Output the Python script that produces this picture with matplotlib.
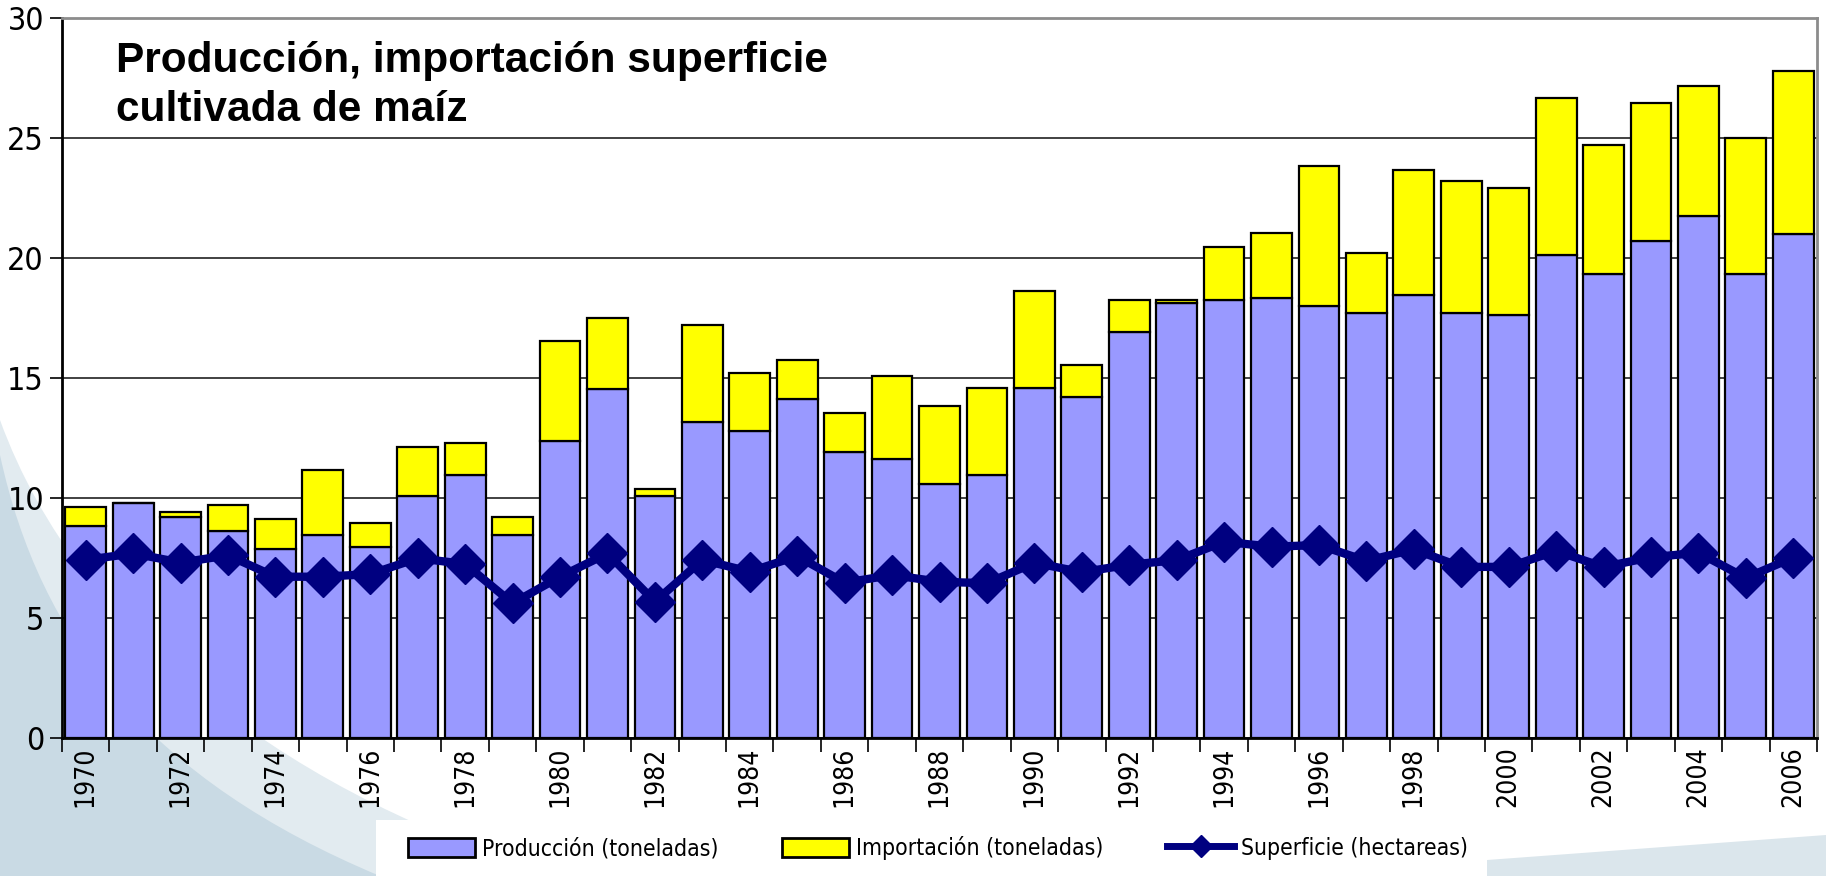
import numpy as np
import matplotlib
matplotlib.use("Agg")
import matplotlib.pyplot as plt
from matplotlib.patches import Patch, Rectangle, PathPatch
from matplotlib.path import Path
from matplotlib.lines import Line2D
from matplotlib import font_manager

# datos
years = list(range(1970, 2007))
produccion = [8.83, 9.81, 9.22, 8.64, 7.88, 8.46, 7.97, 10.08, 10.96, 8.45,
              12.39, 14.53, 10.08, 13.15, 12.78, 14.14, 11.92, 11.63, 10.58, 10.94,
              14.60, 14.21, 16.90, 18.13, 18.24, 18.33, 17.99, 17.69, 18.47, 17.70,
              17.62, 20.11, 19.35, 20.69, 21.74, 19.35, 20.99]
importacion = [0.78, 0.00, 0.20, 1.07, 1.26, 2.71, 0.97, 2.03, 1.35, 0.77,
               4.14, 2.97, 0.28, 4.04, 2.41, 1.61, 1.62, 3.45, 3.25, 3.66,
               4.04, 1.35, 1.34, 0.10, 2.22, 2.70, 5.84, 2.50, 5.18, 5.49,
               5.28, 6.56, 5.37, 5.76, 5.41, 5.65, 6.82]
superficie = [7.42, 7.69, 7.31, 7.61, 6.72, 6.72, 6.83, 7.49, 7.25, 5.61,
              6.72, 7.69, 5.68, 7.42, 6.93, 7.58, 6.47, 6.79, 6.51, 6.45,
              7.30, 6.91, 7.22, 7.41, 8.18, 7.97, 8.04, 7.38, 7.86, 7.13,
              7.13, 7.79, 7.13, 7.53, 7.72, 6.67, 7.52]

W, H = 1826, 876
# fuente estrecha para ejes y leyenda
narrow = font_manager.FontProperties(family='DejaVu Sans', stretch='condensed')

fig = plt.figure(figsize=(W / 100, H / 100), dpi=100)
fig.patch.set_facecolor('white')


def px(pts):
    return [(x / W, 1 - y / H) for x, y in pts]


# fondo decorativo
light = Path(px([(0, 420), (80, 640), (300, 800), (560, 876), (0, 876), (0, 420)]),
             [Path.MOVETO, Path.CURVE4, Path.CURVE4, Path.CURVE4, Path.LINETO, Path.CLOSEPOLY])
fig.patches.append(PathPatch(light, transform=fig.transFigure, facecolor='#e2ebf0', edgecolor='none', zorder=-3))
dark = Path(px([(0, 455), (40, 640), (150, 780), (380, 876), (0, 876), (0, 455)]),
            [Path.MOVETO, Path.CURVE4, Path.CURVE4, Path.CURVE4, Path.LINETO, Path.CLOSEPOLY])
fig.patches.append(PathPatch(dark, transform=fig.transFigure, facecolor='#c9dae4', edgecolor='none', zorder=-2))
right = Path(px([(1487, 860), (1826, 835), (1826, 876), (1487, 876), (1487, 860)]),
             [Path.MOVETO, Path.LINETO, Path.LINETO, Path.LINETO, Path.CLOSEPOLY])
fig.patches.append(PathPatch(right, transform=fig.transFigure, facecolor='#dbe6ec', edgecolor='none', zorder=-2))

ax = fig.add_axes([62 / W, 1 - 738 / H, (1817 - 62) / W, (738 - 18) / H])
ax.set_facecolor('white')
ax.set_zorder(2)

x = np.arange(len(years))
ax.bar(x, produccion, width=0.86, color='#9999ff', edgecolor='black', linewidth=1.6, zorder=2)
ax.bar(x, importacion, width=0.86, bottom=produccion, color='#ffff00', edgecolor='black', linewidth=1.6, zorder=2)
ax.plot(x, superficie, color='#000080', linewidth=6, marker='D', markersize=20, zorder=3)

ax.set_xlim(-0.5, len(years) - 0.5)
ax.set_ylim(0, 30)
ax.set_yticks(range(0, 31, 5))
ax.yaxis.grid(True, color='#333333', linewidth=1.3, zorder=0)
ax.set_axisbelow(True)

ax.set_xticks(x[::2])
ax.set_xticklabels([str(y) for y in years[::2]], rotation=90, fontproperties=narrow, fontsize=19)
ax.set_xticks(np.arange(-0.5, len(years), 1), minor=True)
ax.tick_params(axis='x', which='major', length=0, pad=6)
ax.tick_params(axis='x', which='minor', length=10, width=1.2, direction='out')
ax.tick_params(axis='y', length=9, width=1.2, direction='out', pad=4)
for lbl in ax.get_yticklabels():
    lbl.set_fontproperties(narrow)
    lbl.set_fontsize(23)

for s in ['left', 'bottom']:
    ax.spines[s].set_color('black')
    ax.spines[s].set_linewidth(2)
for s in ['top', 'right']:
    ax.spines[s].set_color('#8c8c8c')
    ax.spines[s].set_linewidth(2)

fig.text(116 / W, 1 - 41 / H, 'Producción, importación superficie\ncultivada de maíz',
         family=['Liberation Sans', 'DejaVu Sans'], fontweight='bold', fontsize=30.5,
         va='top', ha='left', linespacing=1.3)

# caja de la leyenda
fig.patches.append(Rectangle((376 / W, 0), (1487 - 376) / W, 56 / H, transform=fig.transFigure,
                             facecolor='white', edgecolor='none', zorder=1))
handles = [Patch(facecolor='#9999ff', edgecolor='black', linewidth=2),
           Patch(facecolor='#ffff00', edgecolor='black', linewidth=2),
           Line2D([], [], color='#000080', linewidth=5, marker='D', markersize=11)]
labels = ['Producción (toneladas)', 'Importación (toneladas)', 'Superficie (hectareas)']
leg_font = font_manager.FontProperties(family='DejaVu Sans', stretch='condensed', size=16.5)
leg = fig.legend(handles, labels, loc='center', bbox_to_anchor=(938 / W, 1 - 848 / H), ncol=3,
                 frameon=False, prop=leg_font,
                 handlelength=2.9, handleheight=0.9, handletextpad=0.3, columnspacing=2.8)
leg.set_zorder(5)

fig.savefig('out.png', dpi=100)
